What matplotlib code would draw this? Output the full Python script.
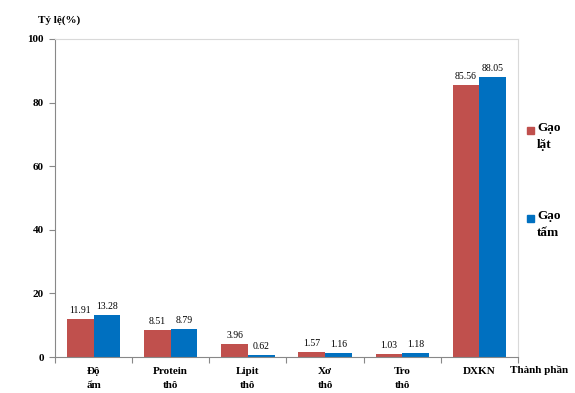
import matplotlib
matplotlib.use("Agg")
import matplotlib.pyplot as plt
from matplotlib.patches import Rectangle
import numpy as np

# du lieu
categories = ["Độ\nẩm", "Protein\nthô", "Lipit\nthô", "Xơ\nthô", "Tro\nthô", "DXKN"]
gao_lat = [11.91, 8.51, 3.96, 1.57, 1.03, 85.56]
gao_tam = [13.28, 8.79, 0.62, 1.16, 1.18, 88.05]
series_names = ["Gạo\nlặt", "Gạo\ntấm"]
y_ticks = [0, 20, 40, 60, 80, 100]

plt.rcParams['font.family'] = ['Liberation Serif', 'DejaVu Serif']

fig = plt.figure(figsize=(5.75, 3.93), dpi=100)
ax = fig.add_axes([0.0957, 0.0916, 0.805, 0.8092])

x = np.arange(len(categories))
w = 0.345
colors = ["#C0504D", "#0070C0"]
b1 = ax.bar(x - w / 2, gao_lat, w, color=colors[0], label=series_names[0])
b2 = ax.bar(x + w / 2, gao_tam, w, color=colors[1], label=series_names[1])

for bars, vals in ((b1, gao_lat), (b2, gao_tam)):
    for b, v in zip(bars, vals):
        ax.text(b.get_x() + b.get_width() / 2, v + 1.3, "%.2f" % v,
                ha="center", va="bottom", fontsize=7)

ax.set_xlim(-0.5, len(categories) - 0.5)
ax.set_ylim(0, 100)
ax.set_yticks(y_ticks)
ax.set_yticklabels([str(t) for t in y_ticks], fontsize=8, fontweight="bold")

# vach chia giua cac nhom
ax.set_xticks(np.arange(len(categories) + 1) - 0.5)
ax.set_xticklabels([])
ax.tick_params(axis="x", length=4, color="#888888")
ax.tick_params(axis="y", length=4, color="#888888", pad=4)
for i, c in enumerate(categories):
    ax.text(i, -3.0, c, ha="center", va="top", fontsize=8, fontweight="bold",
            linespacing=1.75)

for s in ["left", "bottom"]:
    ax.spines[s].set_color("#888888")
for s in ["top", "right"]:
    ax.spines[s].set_color("#D9D9D9")

fig.text(0.887, 0.058, "Thành phần", ha="left", va="center", fontsize=8,
         fontweight="bold")
fig.text(0.066, 0.948, "Tỷ lệ(%)", ha="left", va="center", fontsize=8,
         fontweight="bold")

# chu giai ve tay
leg_y = [1 - 130 / 393, 1 - 218 / 393]
for name, col, yy in zip(series_names, colors, leg_y):
    fig.patches.append(Rectangle((527 / 575, yy - 4 / 393), 7 / 575, 7 / 393,
                                 transform=fig.transFigure, color=col))
    fig.text(537 / 575, yy + 8 / 393, name, ha="left", va="top", fontsize=9.5,
             fontweight="bold", linespacing=1.55)

fig.savefig("out.png", dpi=100)
